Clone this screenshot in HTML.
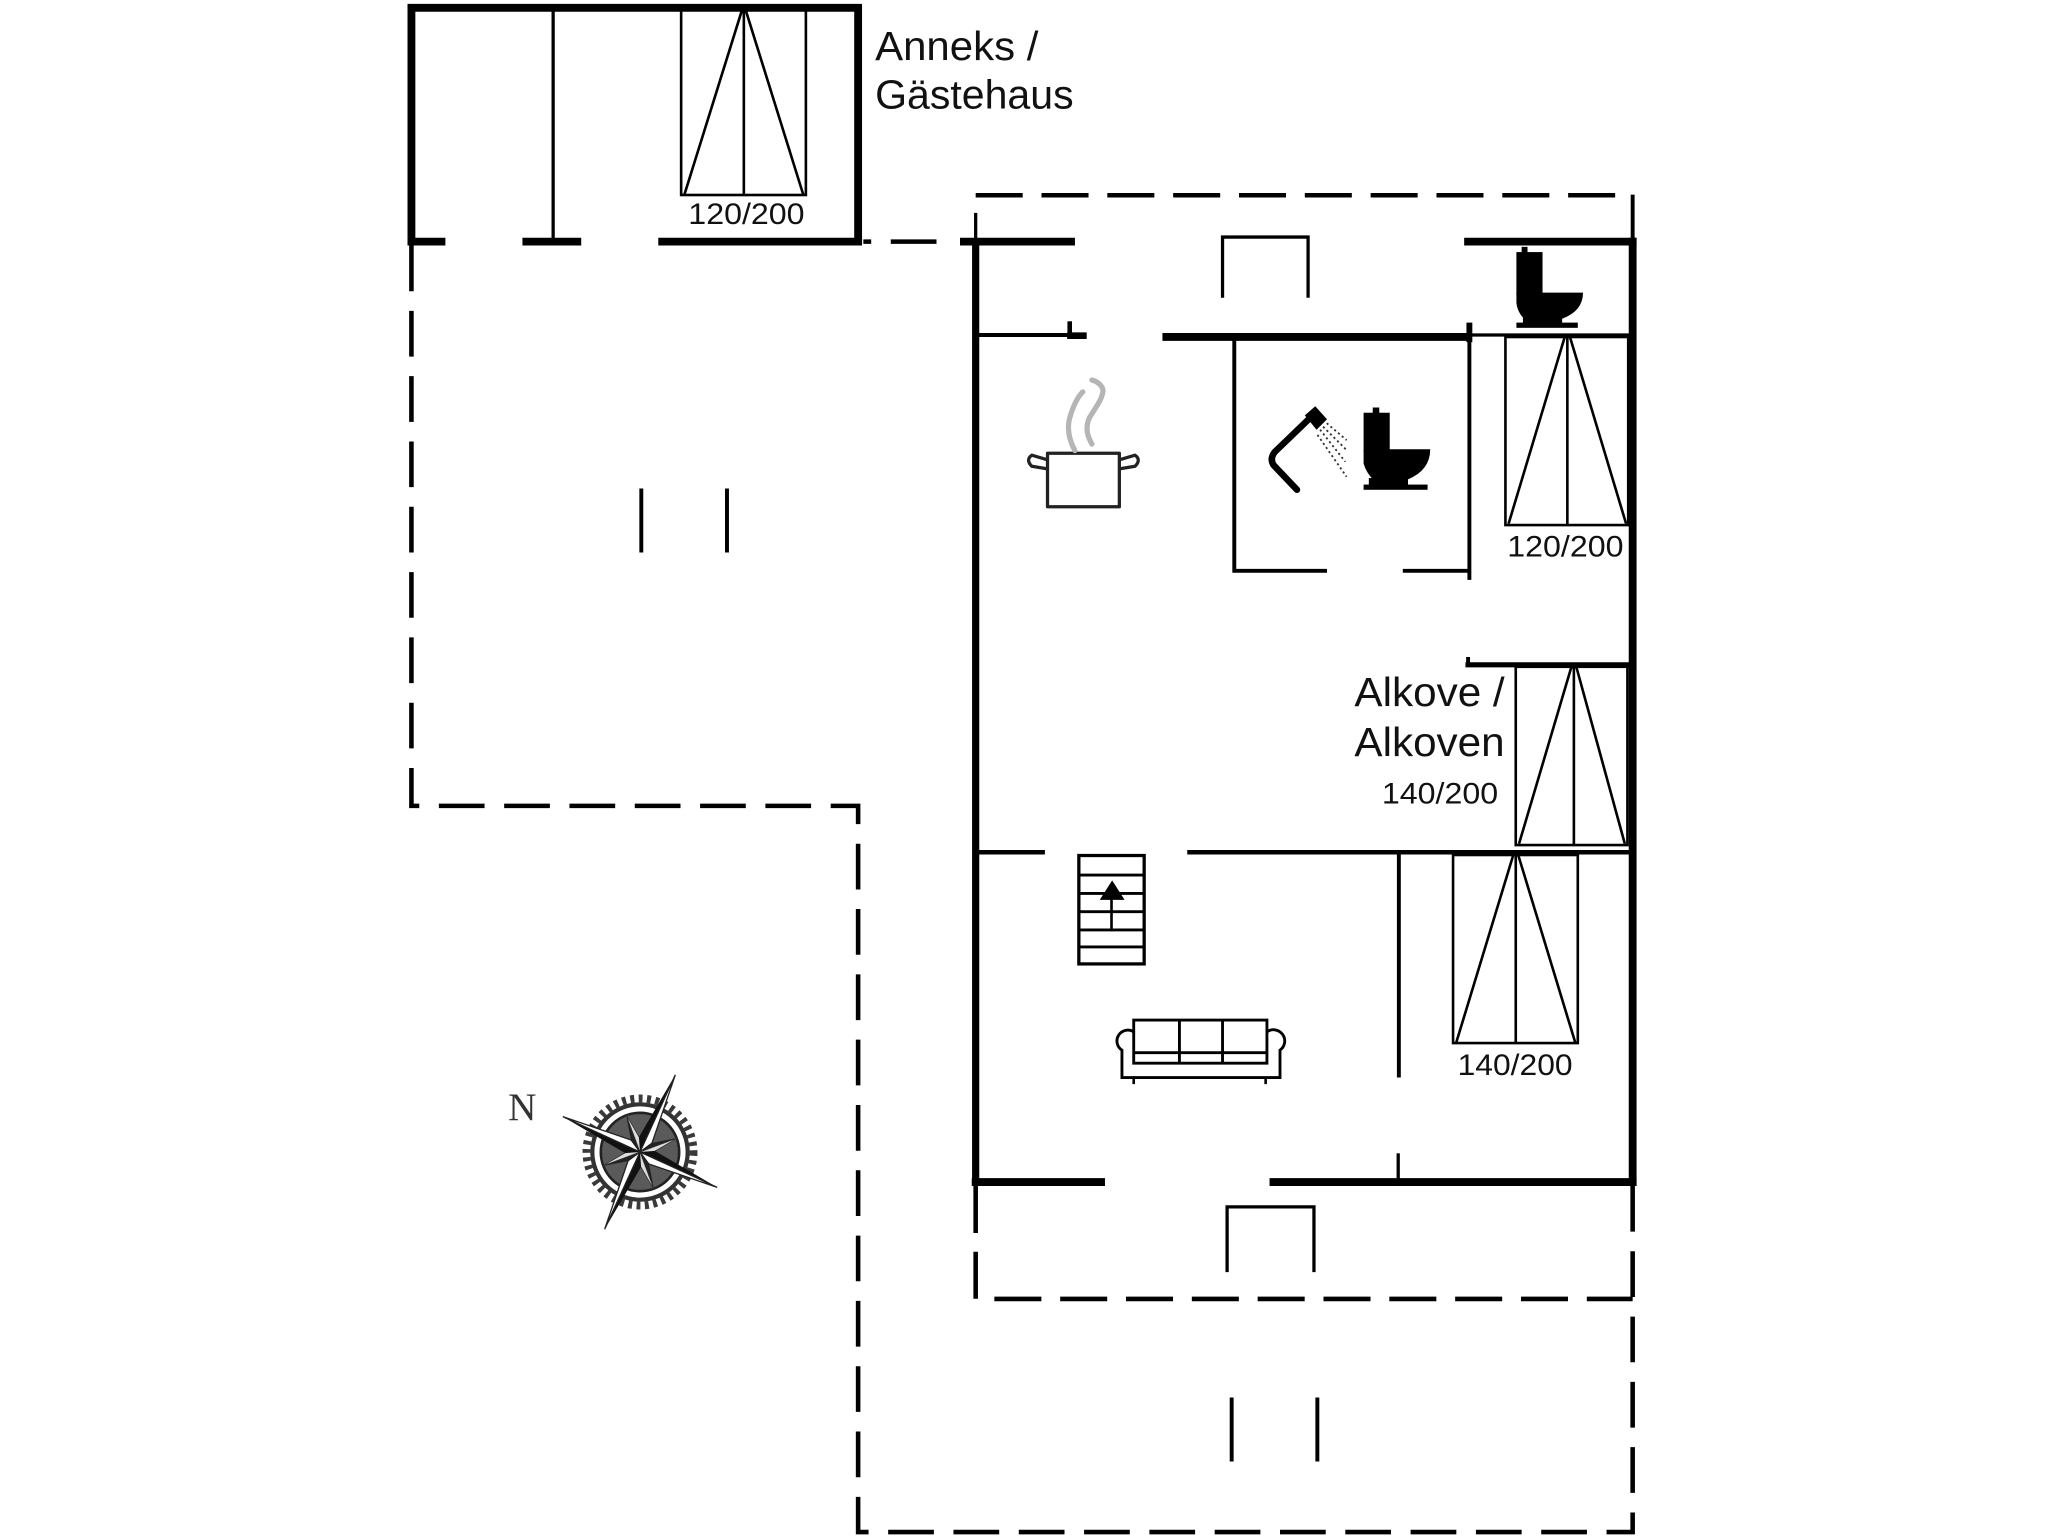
<!DOCTYPE html>
<html>
<head>
<meta charset="utf-8">
<style>
html,body{margin:0;padding:0;background:#fff;overflow:hidden;}
svg{display:block;}
</style>
</head>
<body>
<svg width="2048" height="1536" viewBox="0 0 1568 1176" xmlns="http://www.w3.org/2000/svg">
<rect x="0" y="0" width="1568" height="1176" fill="#fff"/>

<g stroke="#000" fill="none" stroke-linecap="butt">
  <!-- ===== Annex ===== -->
  <path d="M315,188 V6 H657 V188" stroke-width="6"/>
  <path d="M312,185 H341 M400,185 H445 M504,185 H660" stroke-width="6"/>
  <line x1="423.5" y1="6" x2="423.5" y2="185" stroke-width="2.5"/>
  <!-- annex bed -->
  <rect x="521.5" y="7.7" width="95.5" height="141.6" stroke-width="2"/>
  <line x1="569.5" y1="8" x2="569.5" y2="149" stroke-width="2"/>
  <line x1="568" y1="8" x2="524" y2="149" stroke-width="2"/>
  <line x1="571" y1="8" x2="615" y2="149" stroke-width="2"/>

  <!-- connector dashes annex -> main -->
  <path d="M661,185 H667 M682,185 H717" stroke-width="3.5"/>

  <!-- ===== Main house walls ===== -->
  <path d="M735,185 H823 M1121,185 H1253" stroke-width="6"/>
  <line x1="747" y1="163" x2="747" y2="186" stroke-width="2.5"/>
  <line x1="747" y1="183" x2="747" y2="908" stroke-width="5.5"/>
  <line x1="1250" y1="149" x2="1250" y2="185" stroke-width="3"/>
  <line x1="1250" y1="182" x2="1250" y2="908" stroke-width="6"/>
  <path d="M744,905 H846 M972,905 H1253" stroke-width="6"/>

  <!-- chimney/fireplace top -->
  <path d="M936,228 V181.5 H1001.5 V228" stroke-width="2.5"/>
  <!-- bottom step -->
  <path d="M939.5,974 V924 H1006 V974" stroke-width="2.5"/>

  <!-- kitchen line and stub -->
  <line x1="748" y1="256.5" x2="820" y2="256.5" stroke-width="3"/>
  <line x1="819" y1="246" x2="819" y2="258" stroke-width="3.5"/>
  <line x1="817" y1="257" x2="832" y2="257" stroke-width="5"/>

  <!-- bath thick wall -->
  <line x1="890" y1="258" x2="1127" y2="258" stroke-width="6"/>
  <line x1="1125" y1="247" x2="1125" y2="262" stroke-width="4.5"/>
  <line x1="1125" y1="256.5" x2="1248" y2="256.5" stroke-width="2.5"/>
  <!-- bathroom -->
  <path d="M945,258 V437 H1016 M1074,437 H1125" stroke-width="3"/>
  <line x1="1125" y1="258" x2="1125" y2="444" stroke-width="3"/>

  <!-- upper right bed -->
  <rect x="1152.6" y="258" width="94" height="144" stroke-width="2"/>
  <line x1="1200" y1="258" x2="1200" y2="402" stroke-width="2"/>
  <line x1="1198" y1="258" x2="1155" y2="401" stroke-width="2"/>
  <line x1="1202" y1="258" x2="1245" y2="401" stroke-width="2"/>

  <!-- alkove top line and stub -->
  <line x1="1122" y1="509" x2="1248" y2="509" stroke-width="4"/>
  <line x1="1124" y1="503" x2="1124" y2="510" stroke-width="3"/>
  <!-- alkove bed -->
  <rect x="1160.5" y="510.5" width="85.5" height="136.5" stroke-width="2"/>
  <line x1="1205" y1="511" x2="1205" y2="647" stroke-width="2"/>
  <line x1="1203" y1="511" x2="1163" y2="646" stroke-width="2"/>
  <line x1="1207" y1="511" x2="1244" y2="646" stroke-width="2"/>

  <!-- horizontal wall y=653 -->
  <path d="M748,652.5 H800 M909,652.5 H1248" stroke-width="3.5"/>
  <!-- vertical wall -->
  <line x1="1071" y1="653" x2="1071" y2="825" stroke-width="3"/>
  <line x1="1070.5" y1="883" x2="1070.5" y2="905" stroke-width="2.5"/>

  <!-- lower bed -->
  <rect x="1112.5" y="654.6" width="95.5" height="144" stroke-width="2"/>
  <line x1="1160.5" y1="655" x2="1160.5" y2="798.6" stroke-width="2"/>
  <line x1="1158.5" y1="655" x2="1115" y2="798" stroke-width="2"/>
  <line x1="1162.5" y1="655" x2="1206" y2="798" stroke-width="2"/>

  <!-- stairs -->
  <rect x="826" y="655" width="50" height="83" stroke-width="2.5"/>
  <path d="M826,670 H876 M826,684 H876 M826,698 H876 M826,712 H876 M826,725 H876" stroke-width="2.2"/>
  <line x1="851" y1="713" x2="851" y2="686" stroke-width="2"/>

  <!-- sofa -->
  <rect x="868" y="781" width="102" height="33" stroke-width="2.2"/>
  <path d="M903,781 V814 M936,781 V814 M868,806 H970" stroke-width="2.2"/>
  <path d="M868,790 A8,8 0 1 0 859,804 V825 H980 V804 A8,8 0 1 0 970,790" stroke-width="2.2"/>
  <path d="M868,825 V830 M969,825 V830" stroke-width="2"/>

  <!-- short lines left area -->
  <path d="M491,374 V423 M556.6,374 V423" stroke-width="3"/>
  <!-- short lines bottom area -->
  <path d="M943,1070 V1119 M1008.6,1070 V1119" stroke-width="3"/>

  <!-- ===== Dashed outlines ===== -->
  <path d="M747,149.5 H1240" stroke-width="3.5" stroke-dasharray="36 14.4"/>
  <path d="M315,188 V617 H657 V1173 H1250 V905" stroke-width="3.5" stroke-dasharray="35 15"/>
  <path d="M747,908 V994.5 H1250" stroke-width="3.5" stroke-dasharray="36 14.4"/>
</g>

<!-- stairs arrowhead -->
<polygon points="842,689 861,689 851.5,674" fill="#000"/>

<!-- ===== Pot with steam ===== -->
<g stroke="#222" fill="none" stroke-width="2.5" stroke-linejoin="round">
  <rect x="802" y="347" width="55" height="41" fill="#fff"/>
  <path d="M802,352 L790,348.5 Q785,352 790,357 L802,359"/>
  <path d="M857,352 L869,348.5 Q874,352 869,357 L857,359"/>
</g>
<g stroke="#b5b5b5" fill="none" stroke-width="4" stroke-linecap="round">
  <path d="M823,345 C818,336 817,327 819,320 C821,313 824,305 829,300"/>
  <path d="M836,340 C832,333 831,327 834,320 C838,313 844,306 844.5,299 C844,295 840,292 836,291"/>
</g>

<!-- ===== Shower ===== -->
<g>
  <path d="M993,375 L975,356 Q972,351 976,346 L1003,320" stroke="#000" stroke-width="5" fill="none" stroke-linecap="round" stroke-linejoin="round"/>
  <polygon points="999,318 1007,311 1016,321 1008,329" fill="#000"/>
  <g stroke="#333" stroke-width="1.4" stroke-dasharray="1.6 2.2" fill="none">
    <line x1="1008.7" y1="333" x2="1031" y2="365"/>
    <line x1="1010.7" y1="329" x2="1030" y2="353.5"/>
    <line x1="1013" y1="326.7" x2="1031" y2="344.6"/>
    <line x1="1015.8" y1="324" x2="1031" y2="337"/>
  </g>
</g>

<!-- ===== Toilet in bathroom ===== -->
<g fill="#000">
  <rect x="1051" y="312" width="5" height="6"/>
  <rect x="1044" y="316" width="20" height="30"/>
  <path d="M1044,344 H1095 Q1095,360 1078,367 L1052,368 Q1046,362 1044,355 Z"/>
  <rect x="1044" y="371" width="49" height="4"/>
  <rect x="1048" y="366" width="30" height="6"/>
</g>

<!-- ===== Toilet top right ===== -->
<g fill="#000">
  <rect x="1165" y="189" width="4.5" height="6"/>
  <rect x="1161" y="193" width="20" height="33"/>
  <path d="M1161,224 H1212 Q1212,238 1196,244 L1168,245 Q1162,240 1161,232 Z"/>
  <rect x="1161" y="247" width="47" height="4"/>
  <rect x="1166" y="243" width="30" height="6"/>
</g>

<!-- ===== Compass ===== -->
<g transform="translate(490,882)">
  <circle r="41" fill="none" stroke="#3a3a3a" stroke-width="6" stroke-dasharray="3 3.4"/>
  <circle r="36.5" fill="none" stroke="#333" stroke-width="3.2"/>
  <circle r="33" fill="#fff"/>
  <circle r="30" fill="#5a5a5a" stroke="#222" stroke-width="2"/>
  <g transform="rotate(69.6)">
    <g id="sp">
      <polygon points="0,0 31,0 7,-4" fill="#222"/>
      <polygon points="0,0 31,0 7,4" fill="#ddd" stroke="#333" stroke-width="0.6"/>
    </g>
    <g transform="rotate(90)"><polygon points="0,0 31,0 7,-4" fill="#222"/><polygon points="0,0 31,0 7,4" fill="#ddd" stroke="#333" stroke-width="0.6"/></g>
    <g transform="rotate(180)"><polygon points="0,0 31,0 7,-4" fill="#222"/><polygon points="0,0 31,0 7,4" fill="#ddd" stroke="#333" stroke-width="0.6"/></g>
    <g transform="rotate(270)"><polygon points="0,0 31,0 7,-4" fill="#222"/><polygon points="0,0 31,0 7,4" fill="#ddd" stroke="#333" stroke-width="0.6"/></g>
  </g>
  <g transform="rotate(24.6)">
    <g><polygon points="0,0 65,0 10,-5.5" fill="#111"/><polygon points="0,0 65,0 10,5.5" fill="#fff" stroke="#222" stroke-width="1"/></g>
    <g transform="rotate(90)"><polygon points="0,0 65,0 10,-5.5" fill="#111"/><polygon points="0,0 65,0 10,5.5" fill="#fff" stroke="#222" stroke-width="1"/></g>
    <g transform="rotate(180)"><polygon points="0,0 65,0 10,-5.5" fill="#111"/><polygon points="0,0 65,0 10,5.5" fill="#fff" stroke="#222" stroke-width="1"/></g>
    <g transform="rotate(270)"><polygon points="0,0 65,0 10,-5.5" fill="#111"/><polygon points="0,0 65,0 10,5.5" fill="#fff" stroke="#222" stroke-width="1"/></g>
  </g>
</g>
<text x="389" y="857.5" font-family="'Liberation Serif', serif" font-size="30" fill="#333">N</text>

<!-- ===== Labels ===== -->
<g font-family="'Liberation Sans', Arial, sans-serif" fill="#111">
  <text x="670" y="46" font-size="31" textLength="125" lengthAdjust="spacingAndGlyphs">Anneks /</text>
  <text x="670" y="83" font-size="31" textLength="152" lengthAdjust="spacingAndGlyphs">Gästehaus</text>
  <text x="1037" y="540.5" font-size="31" textLength="115" lengthAdjust="spacingAndGlyphs">Alkove /</text>
  <text x="1037" y="579" font-size="31" textLength="115" lengthAdjust="spacingAndGlyphs">Alkoven</text>

  <text x="527" y="171.5" font-size="23" textLength="89" lengthAdjust="spacingAndGlyphs">120/200</text>
  <text x="1154" y="426" font-size="23" textLength="89" lengthAdjust="spacingAndGlyphs">120/200</text>
  <text x="1058" y="615" font-size="23" textLength="89" lengthAdjust="spacingAndGlyphs">140/200</text>
  <text x="1116" y="823" font-size="23" textLength="88" lengthAdjust="spacingAndGlyphs">140/200</text>
</g>
</svg>
</body>
</html>
